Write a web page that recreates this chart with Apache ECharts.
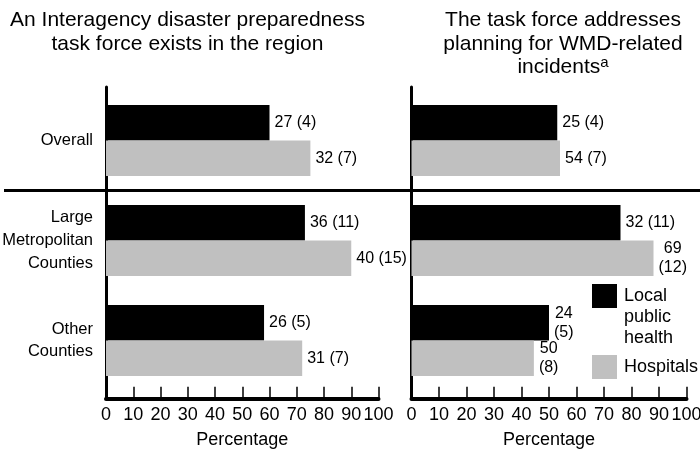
<!DOCTYPE html>
<html><head><meta charset="utf-8">
<script src="https://cdn.jsdelivr.net/npm/echarts@6/dist/echarts.min.js"></script>
<style>html,body{margin:0;padding:0;background:#fff}#c{width:700px;height:450px}</style>
</head><body><div id="c"></div>
<script>
// ---- data ----
const categories = ['Overall', 'Large\nMetropolitan\nCounties', 'Other\nCounties'];
const leftTitle = 'An Interagency disaster preparedness\ntask force exists in the region';
const rightTitleLines = ['The task force addresses', 'planning for WMD-related', 'incidents'];
const rightTitleNote = 'a';
const seriesNames = ['Local public health', 'Hospitals'];
const legendLabels = ['Local\npublic\nhealth', 'Hospitals'];
// bar lengths as drawn (percent)
const leftLocal = [60, 73, 58];
const leftHosp = [75, 90, 72];
const rightLocal = [53, 76, 50];
const rightHosp = [54, 88, 44.5];
// value labels printed beside the bars
const leftLocalLabels = ['27 (4)', '36 (11)', '26 (5)'];
const leftHospLabels = ['32 (7)', '40 (15)', '31 (7)'];
const rightLocalLabels = ['25 (4)', '32 (11)', '24\n(5)'];
const rightHospLabels = ['54 (7)', '69\n(12)', '50\n(8)'];
const xMin = 0, xMax = 100, xStep = 10;
const axisName = 'Percentage';

// ---- styling ----
const FONT = 'Liberation Sans';
const BLACK = '#000000', GRAY = '#c0c0c0';

const panels = [
  { left: 106, width: 272.5 },
  { left: 411.5, width: 275 }
];
const barTop = 90.5, barHeight = 300;
const frameTop = 87, frameBottom = 398.7;

const grid = [];
panels.forEach(p => grid.push({ left: p.left, width: p.width, top: barTop, height: barHeight, outerBoundsMode: 'none' }));
panels.forEach(p => grid.push({ left: p.left, width: p.width, top: frameTop, height: frameBottom - frameTop, outerBoundsMode: 'none' }));
grid.push({ left: 4, right: 0, top: barTop, height: barHeight, outerBoundsMode: 'none' });

const hiddenX = gi => ({ type: 'value', gridIndex: gi, min: xMin, max: xMax, show: false });
const frameX = gi => ({
  type: 'value', gridIndex: gi, min: xMin, max: xMax, interval: xStep,
  axisLine: { show: true, onZero: false, lineStyle: { color: BLACK, width: 4 } },
  axisTick: { show: true, inside: true, length: 12, lineStyle: { color: BLACK, width: 1.5 } },
  axisLabel: { fontSize: 18, color: BLACK, margin: 7.5, fontFamily: FONT, hideOverlap: false },
  splitLine: { show: false },
  name: axisName, nameLocation: 'middle', nameGap: 41, nameMoveOverlap: false,
  nameTextStyle: { fontSize: 18, lineHeight: 18, verticalAlign: 'middle', color: BLACK, fontFamily: FONT }
});
const xAxis = [hiddenX(0), hiddenX(1), frameX(2), frameX(3), hiddenX(4)];

const frameY = gi => ({
  type: 'value', gridIndex: gi, min: 0, max: 1,
  axisLine: { show: true, onZero: false, lineStyle: { color: BLACK, width: 3 } },
  axisTick: { show: false }, axisLabel: { show: false }, splitLine: { show: false }
});
const yAxis = [
  { type: 'category', gridIndex: 0, data: categories, inverse: true,
    axisLine: { show: false }, axisTick: { show: false },
    axisLabel: { fontSize: 16.5, lineHeight: 22.7, color: BLACK, margin: 13, fontFamily: FONT, interval: 0 } },
  { type: 'category', gridIndex: 1, data: categories, inverse: true, show: false },
  frameY(2), frameY(3),
  { type: 'category', gridIndex: 4, data: categories, inverse: true,
    axisLine: { show: false }, axisTick: { show: false }, axisLabel: { show: false },
    splitLine: { show: true, interval: 0, showMinLine: false, showMaxLine: false,
      lineStyle: { color: [BLACK, 'transparent', 'transparent'], width: 3 } } }
];

function richLabel(texts) {
  return {
    show: true, position: 'right', distance: 5,
    formatter: p => texts[p.dataIndex].split('\n').map(s => '{c|' + s + '}').join('\n'),
    rich: { c: { fontSize: 16, lineHeight: 19, color: BLACK, fontFamily: FONT, align: 'center' } }
  };
}
function bar(name, xi, data, color, labels) {
  return {
    type: 'bar', name, xAxisIndex: xi, yAxisIndex: xi, data,
    barWidth: 35.5, barGap: '0%', itemStyle: { color },
    label: richLabel(labels), emphasis: { disabled: true }, silent: true
  };
}
const series = [
  bar(seriesNames[0], 0, leftLocal, BLACK, leftLocalLabels),
  bar(seriesNames[1], 0, leftHosp, GRAY, leftHospLabels),
  bar(seriesNames[0], 1, rightLocal, BLACK, rightLocalLabels),
  bar(seriesNames[1], 1, rightHosp, GRAY, rightHospLabels)
];

const rightTitleText = rightTitleLines.map((s, i) =>
  '{t|' + s + '}' + (i === rightTitleLines.length - 1 ? '{sup|' + rightTitleNote + '}' : '')).join('\n');

// first line of a multi-line legend label sits level with its swatch
const topAligned = s => {
  const n = s.split('\n').length;
  return '\n'.repeat(n - 1) + s;
};

const legendBase = {
  left: 592, orient: 'vertical', padding: 0, itemWidth: 25, itemHeight: 24,
  icon: 'rect', selectedMode: false
};

const option = {
  animation: false,
  textStyle: { fontFamily: FONT },
  title: [
    { text: leftTitle, left: 187.5, top: 9, textAlign: 'center', padding: 0,
      textStyle: { fontSize: 21, lineHeight: 23.3, fontWeight: 'normal', color: BLACK, fontFamily: FONT } },
    { text: rightTitleText, left: 563, top: 9, textAlign: 'center', padding: 0,
      textStyle: { fontSize: 21, lineHeight: 23.3, fontWeight: 'normal', color: BLACK, fontFamily: FONT,
        rich: { t: { fontSize: 21, lineHeight: 23.3, color: BLACK, fontFamily: FONT },
                sup: { fontSize: 15, lineHeight: 17, verticalAlign: 'top', color: BLACK, fontFamily: FONT } } } }
  ],
  legend: [
    Object.assign({}, legendBase, { top: 243.5, data: [seriesNames[0]],
      formatter: () => topAligned(legendLabels[0]),
      textStyle: { fontSize: 18, lineHeight: 21, color: BLACK, fontFamily: FONT, padding: [0, 0, 0, 2] } }),
    Object.assign({}, legendBase, { top: 355, data: [seriesNames[1]],
      formatter: () => legendLabels[1],
      textStyle: { fontSize: 18, lineHeight: 21, color: BLACK, fontFamily: FONT, padding: [0, 0, 0, 2] } })
  ],
  grid, xAxis, yAxis, series
};

const chart = echarts.init(document.getElementById('c'), null, { renderer: 'canvas' });
chart.setOption(option);
</script>
</body></html>
